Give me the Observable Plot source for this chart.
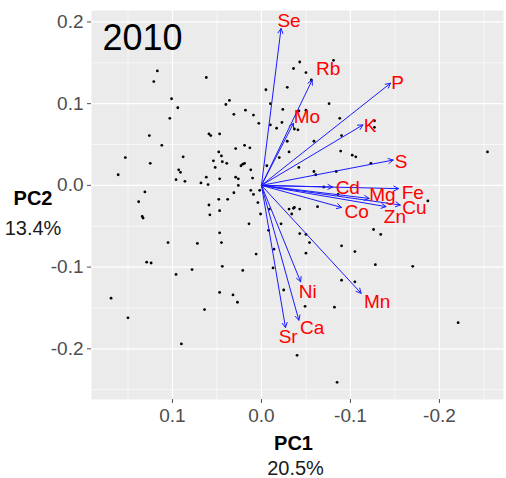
<!DOCTYPE html>
<html>
<head>
<meta charset="utf-8">
<script src="https://cdn.jsdelivr.net/npm/d3@7"></script>
<script src="https://cdn.jsdelivr.net/npm/@observablehq/plot@0.6"></script>
<style>
  html, body { margin: 0; padding: 0; background: #ffffff; }
  #chart svg { display: block; }
</style>
</head>
<body>
<div id="chart"></div>
<script>
// Sample scores (PC1, PC2)
const pc1 = [0.117,0.121,0.062,0.101,0.094,0.103,0.040,0.036,0.031,0.018,0.009,0.003,-0.005,-0.029,-0.010,-0.024,-0.010,-0.017,-0.023,-0.029,
  0.126,0.112,0.153,0.125,0.161,0.088,0.093,0.091,0.096,0.086,0.059,0.057,0.047,0.048,0.045,0.054,0.044,0.039,0.052,0.029,
  0.019,0.013,0.023,0.021,0.019,0.012,0.029,0.026,0.010,0.062,0.068,0.060,0.047,0.026,0.002,0.031,0.012,0.009,0.131,0.138,
  0.048,0.038,-0.006,-0.031,-0.020,0.059,0.047,0.058,0.004,0.001,0.014,0.047,0.105,0.072,0.045,0.006,0.078,0.044,0.021,0.096,
  -0.008,0.134,0.133,-0.009,-0.022,-0.014,-0.013,-0.025,0.129,0.124,0.169,0.150,0.047,0.032,0.027,0.064,0.090,-0.031,-0.036,-0.037,
  -0.034,-0.043,-0.063,-0.070,-0.086,-0.043,-0.050,-0.054,-0.050,-0.090,-0.105,-0.126,-0.134,-0.128,-0.170,-0.090,-0.105,-0.187,-0.049,-0.082,
  -0.040,-0.085,-0.254,-0.221,-0.081,-0.043,-0.036,-0.050,-0.056,-0.037,-0.041,-0.042,-0.050,-0.059,-0.042,-0.059,-0.061,-0.084,-0.089,-0.090,
  -0.088,-0.076,-0.102,-0.106,-0.123,-0.127,-0.127];
const pc2 = [0.140,0.127,0.132,0.106,0.095,0.082,0.099,0.104,0.087,0.092,0.086,0.076,0.117,0.120,0.100,0.093,0.074,0.070,0.077,0.054,
  0.061,0.049,0.034,0.027,0.013,0.035,0.019,0.016,0.007,0.005,0.063,0.061,0.063,0.041,0.036,0.030,0.029,0.027,0.022,0.045,
  0.049,0.046,0.024,0.026,0.027,0.019,0.010,0.008,0.009,0.010,0.003,0.001,0.008,0.000,-0.006,-0.009,-0.006,-0.011,-0.008,-0.020,
  -0.017,-0.017,0.024,0.041,0.034,-0.024,-0.031,-0.036,-0.021,-0.035,-0.047,-0.058,-0.070,-0.071,-0.070,-0.084,-0.103,-0.099,-0.104,-0.109,
  -0.055,-0.038,-0.040,-0.029,-0.047,-0.078,-0.101,-0.128,-0.094,-0.095,-0.138,-0.162,-0.131,-0.134,-0.143,-0.152,-0.194,-0.029,-0.028,-0.027,
  -0.035,-0.029,-0.026,-0.002,-0.011,-0.059,-0.060,-0.070,-0.083,-0.074,-0.081,-0.054,-0.060,-0.097,-0.099,-0.116,-0.118,-0.019,-0.148,-0.149,
  -0.208,-0.241,0.041,-0.168,0.153,0.151,0.143,0.138,0.129,0.069,0.068,0.091,0.092,0.054,0.022,0.017,0.013,0.017,0.042,0.061,
  0.082,0.100,0.037,0.035,0.027,0.079,0.071];

// Variable loadings (arrow tips) and label positions
const varNames = ["Se","Rb","P","Mo","K","S","Cd","Fe","Mg","Cu","Zn","Co","Mn","Ni","Ca","Sr"];
const varX =   [-0.022,-0.057,-0.145,-0.036,-0.114,-0.148,-0.080,-0.154,-0.121,-0.156,-0.140,-0.090,-0.112,-0.044,-0.042,-0.027];
const varY =   [0.192,0.129,0.125,0.076,0.074,0.031,-0.002,-0.004,-0.016,-0.024,-0.026,-0.027,-0.132,-0.118,-0.165,-0.174];
const labelX = [-0.031,-0.075,-0.153,-0.051,-0.122,-0.157,-0.097,-0.170,-0.136,-0.172,-0.150,-0.107,-0.130,-0.052,-0.057,-0.030];
const labelY = [0.201,0.143,0.125,0.084,0.073,0.029,-0.003,-0.009,-0.012,-0.027,-0.039,-0.033,-0.143,-0.130,-0.175,-0.186];

// Axes
const xTicks = [0.1, 0, -0.1, -0.2];
const yTicks = [0.2, 0.1, 0, -0.1, -0.2];
const xMinor = [0.15, 0.05, -0.05, -0.15, -0.25];
const yMinor = [0.15, 0.05, -0.05, -0.15, -0.25];
const xDomain = [-0.272, 0.191];
const yDomain = [-0.262, 0.214];
const titleText = ["2010"];
const xTitle = ["PC1", "20.5%"];
const yTitle = ["PC2", "13.4%"];

const points = pc1.map((x, i) => ({x, y: pc2[i]}));
const vars = varNames.map((name, i) => ({name, x: varX[i], y: varY[i], lx: labelX[i], ly: labelY[i]}));
const fmt = d => d.toFixed(1);
const font = "'Liberation Sans', Arial, Helvetica, sans-serif";

const chart = Plot.plot({
  width: 506,
  height: 478,
  marginLeft: 91,
  marginRight: 3,
  marginTop: 10,
  marginBottom: 79,
  style: {fontFamily: font, fontSize: "19px", color: "#4D4D4D", background: "#ffffff", overflow: "visible"},
  x: {domain: xDomain, reverse: true, label: null},
  y: {domain: yDomain, label: null},
  marks: [
    Plot.frame({fill: "#EBEBEB", stroke: null}),
    Plot.ruleX(xMinor, {stroke: "#ffffff", strokeWidth: 0.6}),
    Plot.ruleY(yMinor, {stroke: "#ffffff", strokeWidth: 0.6}),
    Plot.ruleX(xTicks, {stroke: "#ffffff", strokeWidth: 1.2}),
    Plot.ruleY(yTicks, {stroke: "#ffffff", strokeWidth: 1.2}),
    Plot.axisX({ticks: xTicks, tickFormat: fmt, tickSize: 4, tickPadding: 5, fontSize: 19, label: null}),
    Plot.axisY({ticks: yTicks, tickFormat: fmt, tickSize: 4, tickPadding: 4, fontSize: 19, label: null}),
    Plot.dot(points, {x: "x", y: "y", r: 1.4, fill: "#000000", stroke: null}),
    Plot.arrow(vars, {x1: d => 0, y1: d => 0, x2: "x", y2: "y", stroke: "#1a1aff", strokeWidth: 1, headLength: 8, headAngle: 55}),
    Plot.text(vars, {x: "lx", y: "ly", text: "name", fill: "#FF0000", fontSize: 19, textAnchor: "middle"}),
    Plot.text(titleText, {frameAnchor: "top-left", text: d => d, dx: 11, dy: 14, lineAnchor: "top", textAnchor: "start", fontSize: 36, fill: "#000000"}),
    Plot.text([xTitle[0]], {frameAnchor: "bottom", text: d => d, dx: -4, dy: 44, textAnchor: "middle", lineAnchor: "middle", fontSize: 20, fontWeight: "bold", fill: "#000000"}),
    Plot.text([xTitle[1]], {frameAnchor: "bottom", text: d => d, dx: -2, dy: 69, textAnchor: "middle", lineAnchor: "middle", fontSize: 20, fill: "#1a1a1a"}),
    Plot.text([yTitle[0]], {frameAnchor: "left", text: d => d, dx: -58.5, dy: -6.5, textAnchor: "middle", lineAnchor: "middle", fontSize: 20, fontWeight: "bold", fill: "#000000"}),
    Plot.text([yTitle[1]], {frameAnchor: "left", text: d => d, dx: -58.5, dy: 23.5, textAnchor: "middle", lineAnchor: "middle", fontSize: 20, fill: "#1a1a1a"})
  ]
});
document.getElementById("chart").appendChild(chart);
</script>
</body>
</html>
